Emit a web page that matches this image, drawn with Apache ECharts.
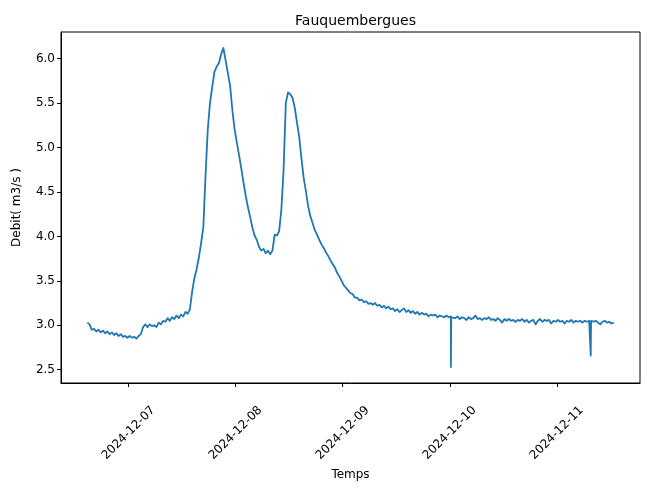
<!DOCTYPE html>
<html>
<head>
<meta charset="utf-8">
<script src="https://cdn.jsdelivr.net/npm/echarts@6/dist/echarts.min.js"></script>
<style>html,body{margin:0;padding:0;background:#fff}#c{width:649px;height:489px}</style>
</head>
<body>
<div id="c"></div>
<script>
// Regular sampling: every 30 minutes, from 2024-12-06 14:45 UTC
const startTime = Date.UTC(2024, 11, 6, 14, 45);
const stepMinutes = 30;
// Debit values (m3/s)
const debit = [
3.03,3.01,2.95,2.96,2.93,2.95,2.92,2.94,2.91,2.93,
2.90,2.92,2.89,2.91,2.88,2.90,2.87,2.88,2.86,2.88,
2.86,2.87,2.85,2.88,2.90,2.98,3.01,2.98,3.01,2.99,
3.00,2.98,3.03,3.01,3.05,3.04,3.08,3.05,3.09,3.07,
3.11,3.08,3.12,3.10,3.15,3.13,3.18,3.38,3.53,3.63,
3.76,3.92,4.10,4.68,5.20,5.50,5.68,5.85,5.91,5.95,
6.05,6.12,5.98,5.84,5.70,5.43,5.21,5.06,4.92,4.77,
4.61,4.46,4.33,4.22,4.10,4.01,3.96,3.88,3.84,3.86,
3.81,3.84,3.80,3.84,4.02,4.01,4.06,4.30,4.75,5.50,
5.62,5.60,5.56,5.45,5.28,5.12,4.88,4.66,4.51,4.34,
4.23,4.15,4.07,4.02,3.96,3.91,3.87,3.82,3.78,3.73,
3.69,3.65,3.59,3.55,3.50,3.45,3.42,3.39,3.36,3.35,
3.31,3.31,3.28,3.29,3.26,3.27,3.24,3.25,3.23,3.25,
3.22,3.23,3.20,3.22,3.19,3.21,3.18,3.19,3.16,3.18,
3.15,3.17,3.19,3.15,3.17,3.14,3.16,3.13,3.15,3.12,
3.14,3.12,3.13,3.10,3.12,3.11,3.12,3.09,3.11,3.10,
3.09,3.11,3.09,3.10,3.09,3.08,3.10,3.07,3.09,3.08,
3.06,3.09,3.07,3.08,3.11,3.07,3.08,3.06,3.08,3.07,
3.09,3.06,3.07,3.05,3.08,3.06,3.03,3.07,3.05,3.07,
3.05,3.06,3.04,3.06,3.05,3.07,3.04,3.06,3.03,3.05,
3.06,3.01,3.05,3.07,3.04,3.06,3.05,3.06,3.02,3.05,
3.04,3.06,3.04,3.05,3.02,3.05,3.04,3.06,3.03,3.05,
3.04,3.05,3.03,3.05,3.04,3.05,3.04,3.04,3.05,3.03,
3.01,3.04,3.05,3.03,3.04,3.02,3.03
];
// Short isolated drops (sensor glitches) between regular samples
const spikeTimes = ['2024-12-10T00:10:00Z','2024-12-10T00:15:00Z','2024-12-10T00:20:00Z',
                    '2024-12-11T07:31:00Z','2024-12-11T07:36:00Z','2024-12-11T07:41:00Z'];
const spikeValues = [3.09, 2.53, 3.09, 3.05, 2.66, 3.05];
const xTickDates = ['2024-12-07','2024-12-08','2024-12-09','2024-12-10','2024-12-11'];
const yTicks = [2.5,3.0,3.5,4.0,4.5,5.0,5.5,6.0];

const pts = debit.map((v, i) => [startTime + i * stepMinutes * 60000, v]);
spikeTimes.forEach((s, i) => pts.push([Date.parse(s), spikeValues[i]]));
pts.sort((a, b) => a[0] - b[0]);
const xTickVals = xTickDates.map(s => Date.parse(s + 'T00:00:00Z'));
const tFirst = pts[0][0], tLast = pts[pts.length - 1][0];
const span = tLast - tFirst;
const allV = pts.map(p => p[1]);
const vMin = Math.min(...allV), vMax = Math.max(...allV);
const vSpan = vMax - vMin;

const font = 'DejaVu Sans';
const chart = echarts.init(document.getElementById('c'), null, {renderer: 'canvas'});
chart.setOption({
  animation: false,
  title: {text: 'Fauquembergues', left: 350.5, textAlign: 'center', top: 9,
    textStyle: {fontFamily: font, fontSize: 14, fontWeight: 'normal', color: '#000'}},
  grid: {left: 61, right: 9, top: 32, bottom: 106, show: true, borderColor: '#000', borderWidth: 1, containLabel: false},
  xAxis: {
    type: 'value', min: tFirst - 0.05 * span, max: tLast + 0.05 * span,
    name: 'Temps', nameLocation: 'middle', nameGap: 82,
    nameTextStyle: {fontFamily: font, fontSize: 12, color: '#000'},
    axisLine: {lineStyle: {color: '#000', width: 1}},
    axisTick: {show: true, length: 4, customValues: xTickVals, lineStyle: {color: '#000'}},
    splitLine: {show: false},
    axisLabel: {customValues: xTickVals, rotate: 45, align: 'center', verticalAlign: 'middle', margin: 50,
      fontFamily: font, fontSize: 12, color: '#000',
      formatter: v => new Date(v).toISOString().slice(0, 10)}
  },
  yAxis: {
    type: 'value', min: vMin - 0.05 * vSpan, max: vMax + 0.05 * vSpan,
    name: 'Debit( m3/s )', nameLocation: 'middle', nameGap: 38,
    nameTextStyle: {fontFamily: font, fontSize: 12, color: '#000'},
    axisLine: {show: true, lineStyle: {color: '#000', width: 1}},
    axisTick: {show: true, length: 4, customValues: yTicks, lineStyle: {color: '#000'}},
    splitLine: {show: false},
    axisLabel: {customValues: yTicks, margin: 6, fontFamily: font, fontSize: 12, color: '#000',
      formatter: v => v.toFixed(1)}
  },
  series: [{
    type: 'line', data: pts, showSymbol: false, symbol: 'none',
    lineStyle: {color: '#1f77b4', width: 1.8, join: 'round'}, itemStyle: {color: '#1f77b4'}
  }]
});
</script>
</body>
</html>
